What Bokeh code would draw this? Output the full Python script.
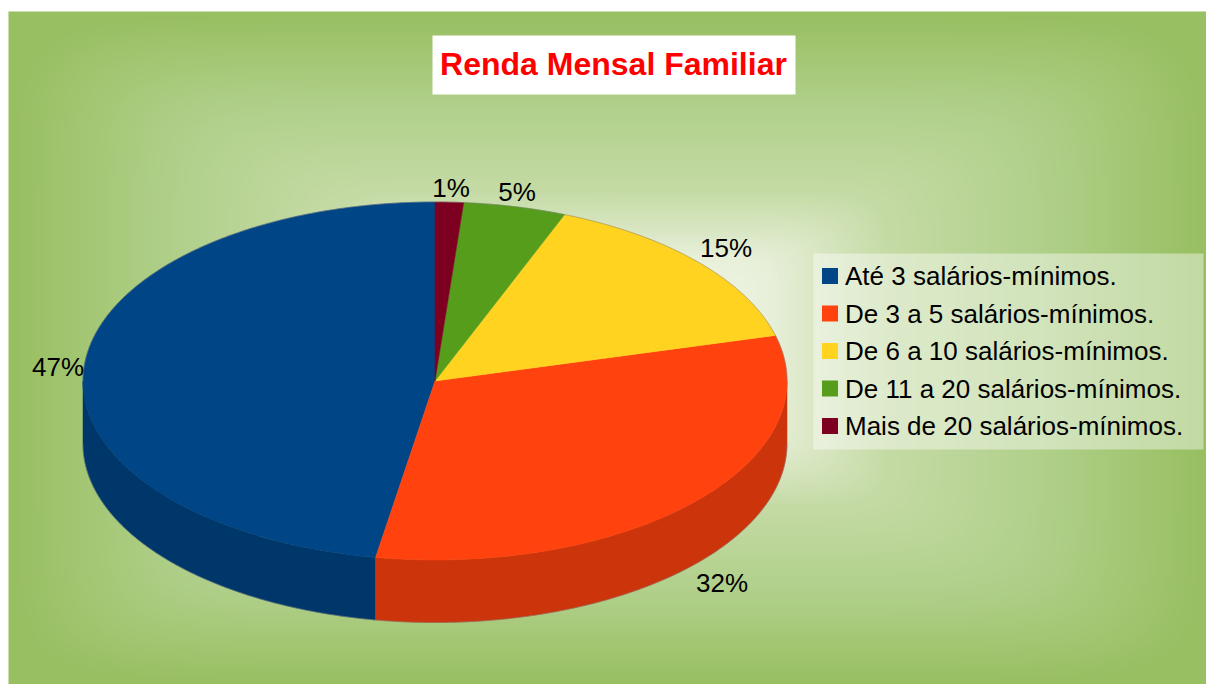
import numpy as np
from bokeh.plotting import figure
from bokeh.models import Range1d
from bokeh.core.properties import value
from bokeh.embed import file_html
from bokeh.resources import INLINE

title = "Renda Mensal Familiar"
categories = ["Até 3 salários-mínimos.", "De 3 a 5 salários-mínimos.", "De 6 a 10 salários-mínimos.",
              "De 11 a 20 salários-mínimos.", "Mais de 20 salários-mínimos."]
shares = [47.3, 31.8, 14.9, 4.7, 1.3]
share_labels = ["47%", "32%", "15%", "5%", "1%"]
colors = ["#004586", "#ff420e", "#ffd320", "#579d1c", "#7e0021"]
side_colors = ["#00376b", "#cc350b", "#cca81a", "#467d16", "#65001a"]

# layout (page pixels)
CX, CY, RX, RY, DEPTH = 435.0, 381.0, 352.0, 179.0, 62.5
label_xy = [(58, 367), (722, 583), (726, 248), (517, 192), (451, 188)]
FONT = value("Liberation Sans")

p = figure(width=1206, height=684, x_range=Range1d(0.5, 1206.5), y_range=Range1d(684.5, 0.5),
           output_backend="svg", toolbar_location=None, min_border=0,
           outline_line_color=None, background_fill_color="white", border_fill_color="white")
p.axis.visible = False
p.grid.visible = False

# background gradient
X0, X1, Y0, Y1 = 8.5, 1207, 11.5, 685
nx, ny = 400, 225
gx, gy = np.meshgrid(np.linspace(-1, 1, nx), np.linspace(-1, 1, ny))
t = np.minimum((np.abs(gx) ** 10 + np.abs(gy) ** 10) ** 0.1, 1.0)
stops = [0, .27, .47, .73, 1]
img = np.zeros((ny, nx), dtype=np.uint32)
v = img.view(np.uint8).reshape((ny, nx, 4))
v[..., 0] = np.interp(t, stops, [248, 232, 197, 176, 152])
v[..., 1] = np.interp(t, stops, [250, 240, 219, 208, 191])
v[..., 2] = np.interp(t, stops, [240, 218, 165, 138, 97])
v[..., 3] = 255
p.image_rgba(image=[img], x=X0, y=Y0, dw=X1 - X0, dh=Y1 - Y0)

# title
p.quad(left=432.5, right=795.5, top=35.5, bottom=94.5, fill_color="white", line_color=None)
p.text(x=[613.5], y=[64], text=[title], text_font=FONT, text_font_style="bold",
       text_font_size="32px", text_color="#ff0000", text_align="center", text_baseline="middle")


def arc(a0, a1):
    a = np.radians(np.linspace(a0, a1, max(int(abs(a1 - a0) * 2), 2)))
    return CX - RX * np.sin(a), CY - RY * np.cos(a)


edges = np.concatenate([[0.0], np.cumsum(shares)]) * 360.0 / sum(shares)

# side wall
for i, col in enumerate(side_colors):
    a0, a1 = max(edges[i], 90.0), min(edges[i + 1], 270.0)
    if a1 > a0:
        ax, ay = arc(a0, a1)
        xs = np.concatenate([ax, ax[::-1]])
        ys = np.concatenate([ay, ay[::-1] + DEPTH])
        p.patch(xs, ys, fill_color=col, line_color=col, line_width=0.5)

# top face
for i, col in enumerate(colors):
    ax, ay = arc(edges[i], edges[i + 1])
    p.patch(np.concatenate([[CX], ax]), np.concatenate([[CY], ay]),
            fill_color=col, line_color=col, line_width=0.5)

# rim
ax, ay = arc(90, 270)
p.line(ax, ay + DEPTH, line_color="#808080", line_alpha=0.5, line_width=1)
ax, ay = arc(270, 450)
p.line(ax, ay, line_color="#808080", line_alpha=0.5, line_width=1)

# share labels
p.text(x=[q[0] for q in label_xy], y=[q[1] for q in label_xy], text=share_labels, text_font=FONT,
       text_font_size="26px", text_color="#000000", text_align="center", text_baseline="middle")

# legend
LX0, LX1, LY0, LY1 = 813.5, 1203.5, 253.5, 449.5
rows = 276 + 37.5 * np.arange(len(categories))
p.quad(left=LX0, right=LX1, top=LY0, bottom=LY1, fill_color="white", fill_alpha=0.42, line_color=None)
p.rect(x=[830] * 5, y=rows, width=16, height=16, fill_color=colors, line_color=None)
p.text(x=[845] * 5, y=rows, text=categories, text_font=FONT, text_font_size="26px",
       text_color="#000000", text_align="left", text_baseline="middle")

open("out.html", "w").write(file_html(p, INLINE))
